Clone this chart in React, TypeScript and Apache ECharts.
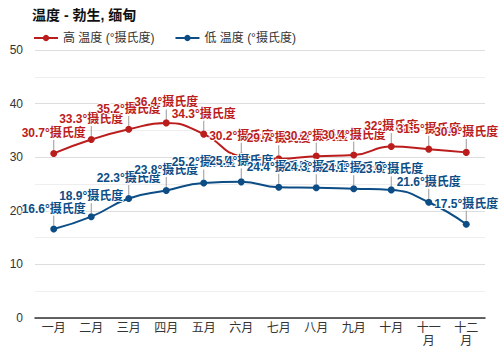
import React, { useEffect, useRef } from "react";
import * as echarts from "echarts";

const months = ["一月", "二月", "三月", "四月", "五月", "六月", "七月", "八月", "九月", "十月", "十一月", "十二月"];
const highTemps = [30.7, 33.3, 35.2, 36.4, 34.3, 30.2, 29.7, 30.2, 30.4, 32, 31.5, 30.9];
const lowTemps = [16.6, 18.9, 22.3, 23.8, 25.2, 25.4, 24.4, 24.3, 24.1, 23.9, 21.6, 17.5];
const highName = "高 温度 (°摄氏度)";
const lowName = "低 温度 (°摄氏度)";
const titleText = "温度 - 勃生, 缅甸";

const FONT = "'Liberation Sans', 'Noto Sans CJK SC', sans-serif";
const RED = "#bb1c1c";
const BLUE = "#0d4d86";

function mkSeries(name: string, data: number[], color: string) {
  return {
    name,
    type: "line",
    data,
    smooth: true,
    symbol: "circle",
    symbolSize: 7,
    itemStyle: { color },
    lineStyle: { color, width: 2 },
    label: {
      show: true,
      position: "top",
      distance: 4,
      formatter: (p: any) => p.value + "°摄氏度",
      color,
      fontWeight: "bold",
      fontSize: 12,
      fontFamily: FONT,
      textBorderColor: "#fff",
      textBorderWidth: 2,
    },
    labelLayout: { dy: -7 },
    labelLine: { show: true, lineStyle: { color: "#999", width: 1 } },
  };
}

export default function App() {
  const ref = useRef<HTMLDivElement>(null);
  useEffect(() => {
    if (!ref.current) return;
    const chart = echarts.init(ref.current, null, { renderer: "svg" });
    chart.setOption({
      animation: false,
      backgroundColor: "#fff",
      textStyle: { fontFamily: FONT },
      title: {
        text: titleText,
        left: 27,
        top: 3,
        textStyle: { fontSize: 14, fontWeight: "bold", color: "#111", fontFamily: FONT },
      },
      legend: {
        left: 28,
        top: 27,
        itemWidth: 24,
        itemHeight: 8,
        itemGap: 20,
        textStyle: { fontSize: 12, color: "#333", fontFamily: FONT },
        data: [highName, lowName],
      },
      grid: { left: 35, right: 15, top: 50, bottom: 32, containLabel: false, outerBoundsMode: "none" },
      xAxis: {
        type: "category",
        data: months,
        boundaryGap: true,
        axisLine: { lineStyle: { color: "#333", width: 1.5 } },
        axisTick: { show: false },
        axisLabel: {
          color: "#333",
          fontSize: 12,
          fontFamily: FONT,
          interval: 0,
          margin: 3,
          width: 30,
          overflow: "break",
          lineHeight: 13,
        },
      },
      yAxis: {
        type: "value",
        min: 0,
        max: 50,
        interval: 10,
        axisLine: { show: false },
        axisTick: { show: false },
        axisLabel: { color: "#333", fontSize: 12, fontFamily: FONT, margin: 12 },
        splitLine: { lineStyle: { color: "#ddd", width: 1 } },
        minorTick: { show: false, splitNumber: 2 },
        minorSplitLine: { show: true, lineStyle: { color: "#eee", width: 1 } },
      },
      series: [mkSeries(highName, highTemps, RED), mkSeries(lowName, lowTemps, BLUE)],
    });
    return () => chart.dispose();
  }, []);
  return <div ref={ref} style={{ width: 500, height: 350, position: "absolute", left: 0, top: 0 }} />;
}
